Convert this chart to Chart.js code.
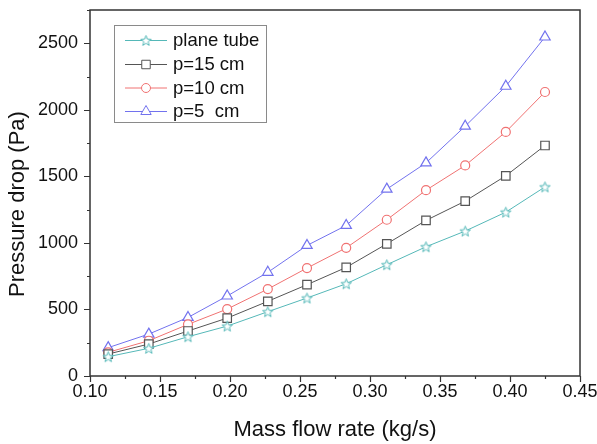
<!DOCTYPE html>
<html>
<head>
<meta charset="utf-8">
<script src="https://cdn.jsdelivr.net/npm/chart.js@4.4.1/dist/chart.umd.min.js"></script>
<style>
  html, body { margin: 0; padding: 0; background: #fff; }
  #wrap { width: 597px; height: 444px; }
</style>
</head>
<body>
<div id="wrap"><canvas id="myChart" width="597" height="444"></canvas></div>
<script>
// data
const massFlow = [0.113, 0.142, 0.170, 0.198, 0.227, 0.255, 0.283, 0.312, 0.340, 0.368, 0.397, 0.425];
const planeTube = [145, 208, 295, 375, 483, 586, 693, 836, 971, 1089, 1231, 1421];
const pitch15 = [165, 240, 338, 435, 561, 686, 816, 993, 1169, 1314, 1504, 1732];
const pitch10 = [178, 265, 388, 503, 653, 811, 963, 1174, 1396, 1582, 1834, 2134];
const pitch5 = [213, 315, 440, 601, 779, 981, 1131, 1404, 1601, 1877, 2177, 2547];
const seriesNames = ['plane tube', 'p=15 cm', 'p=10 cm', 'p=5  cm'];
const xTicks = [0.10, 0.15, 0.20, 0.25, 0.30, 0.35, 0.40, 0.45];
const yTicks = [0, 500, 1000, 1500, 2000, 2500];

const FONT = '"Liberation Sans", Arial, sans-serif';
const AXIS = '#333333';

// 5-point hollow star, Chart.js has no such point style
function makeStar(color) {
    const c = document.createElement('canvas');
    c.width = 13; c.height = 13;
    const g = c.getContext('2d');
    g.strokeStyle = color;
    g.fillStyle = '#fff';
    g.lineWidth = 1;
    g.beginPath();
    for (let i = 0; i < 10; i++) {
        const r = i % 2 ? 2.3 : 5.5;
        const a = -Math.PI / 2 + i * Math.PI / 5;
        const px = 6.5 + r * Math.cos(a), py = 7 + r * Math.sin(a);
        if (i) g.lineTo(px, py); else g.moveTo(px, py);
    }
    g.closePath();
    g.fill();
    g.stroke();
    return c;
}

const colors = ['#55b8b8', '#555555', '#f07272', '#7272ee'];
const styles = [makeStar(colors[0]), 'rect', 'circle', 'triangle'];
const radii = [5, 6, 4.5, 6];

function pts(ys) {
    return massFlow.map((x, i) => ({ x: x, y: ys[i] }));
}

const datasets = [planeTube, pitch15, pitch10, pitch5].map((ys, i) => ({
    label: seriesNames[i],
    data: pts(ys),
    borderColor: colors[i],
    borderWidth: 1,
    pointStyle: styles[i],
    pointRadius: radii[i],
    pointBorderColor: colors[i],
    pointBackgroundColor: '#fff',
    pointBorderWidth: 1.2
}));

// frame, tick marks, y title and the in-plot legend
const decor = {
    id: 'decor',
    afterDraw(chart) {
        const c = chart.ctx;
        const a = chart.chartArea;
        const xs = chart.scales.x, ys = chart.scales.y;
        c.save();
        c.strokeStyle = AXIS;
        c.lineWidth = 1.5;
        c.strokeRect(a.left, a.top, a.right - a.left, a.bottom - a.top);
        c.lineWidth = 1.2;
        c.beginPath();
        for (let v = 0.10; v <= 0.4501; v += 0.025) {
            const px = Math.round(xs.getPixelForValue(v)) + 0.5;
            const major = xTicks.some(t => Math.abs(t - v) < 1e-6);
            c.moveTo(px, a.bottom);
            c.lineTo(px, a.bottom + (major ? 6 : 3));
        }
        for (let v = 0; v <= 2750; v += 250) {
            const py = Math.round(ys.getPixelForValue(v)) + 0.5;
            const major = yTicks.includes(v);
            c.moveTo(a.left, py);
            c.lineTo(a.left - (major ? 6 : 3), py);
        }
        c.stroke();

        // y axis title, sits a bit below the plot centre in the original
        c.save();
        c.translate(18, 204);
        c.rotate(-Math.PI / 2);
        c.font = '22px ' + FONT;
        c.fillStyle = '#111';
        c.textAlign = 'center';
        c.textBaseline = 'middle';
        c.fillText('Pressure drop (Pa)', 0, 0);
        c.restore();

        // legend box
        c.strokeStyle = '#8a8a8a';
        c.lineWidth = 1;
        c.strokeRect(114.5, 25.5, 152, 97);
        c.font = '18.5px ' + FONT;
        c.textBaseline = 'middle';
        const rowY = [40, 64, 87.5, 111];
        datasets.forEach((ds, i) => {
            c.strokeStyle = ds.borderColor;
            c.lineWidth = 1;
            c.beginPath();
            c.moveTo(125, rowY[i] + 0.5);
            c.lineTo(167, rowY[i] + 0.5);
            c.stroke();
            c.fillStyle = '#fff';
            Chart.helpers.drawPoint(c, {
                pointStyle: ds.pointStyle,
                radius: ds.pointRadius,
                borderWidth: 1.2,
                rotation: 0
            }, 146, rowY[i] + 0.5);
            c.fillStyle = '#111';
            c.fillText(ds.label, 173, rowY[i] + 1);
        });
        c.restore();
    }
};

new Chart(document.getElementById('myChart'), {
    type: 'line',
    data: { datasets: datasets },
    plugins: [decor],
    options: {
        responsive: false,
        animation: false,
        layout: { padding: { top: 10, right: 17, left: 0, bottom: 0 } },
        plugins: {
            legend: { display: false },
            tooltip: { enabled: false }
        },
        scales: {
            x: {
                type: 'linear',
                min: 0.10,
                max: 0.45,
                border: { display: false },
                grid: { display: false, drawTicks: false },
                afterFit(s) {
                    s.height = 68;
                    s.paddingLeft = 0;
                    s.paddingRight = 0;
                },
                afterBuildTicks(s) { s.ticks = xTicks.map(v => ({ value: v })); },
                ticks: {
                    padding: 5,
                    color: '#111',
                    font: { family: FONT, size: 18 },
                    callback: v => v.toFixed(2)
                },
                title: {
                    display: true,
                    text: 'Mass flow rate (kg/s)',
                    color: '#111',
                    font: { family: FONT, size: 22 },
                    padding: { top: 4, bottom: 1 }
                }
            },
            y: {
                min: 0,
                max: 2750,
                border: { display: false },
                grid: { display: false, drawTicks: false },
                afterFit(s) {
                    s.width = 90;
                    s.paddingTop = 0;
                    s.paddingBottom = 0;
                },
                afterBuildTicks(s) { s.ticks = yTicks.map(v => ({ value: v })); },
                ticks: {
                    padding: 12,
                    color: '#111',
                    font: { family: FONT, size: 18 },
                    callback: v => String(v)
                }
            }
        }
    }
});
</script>
</body>
</html>
